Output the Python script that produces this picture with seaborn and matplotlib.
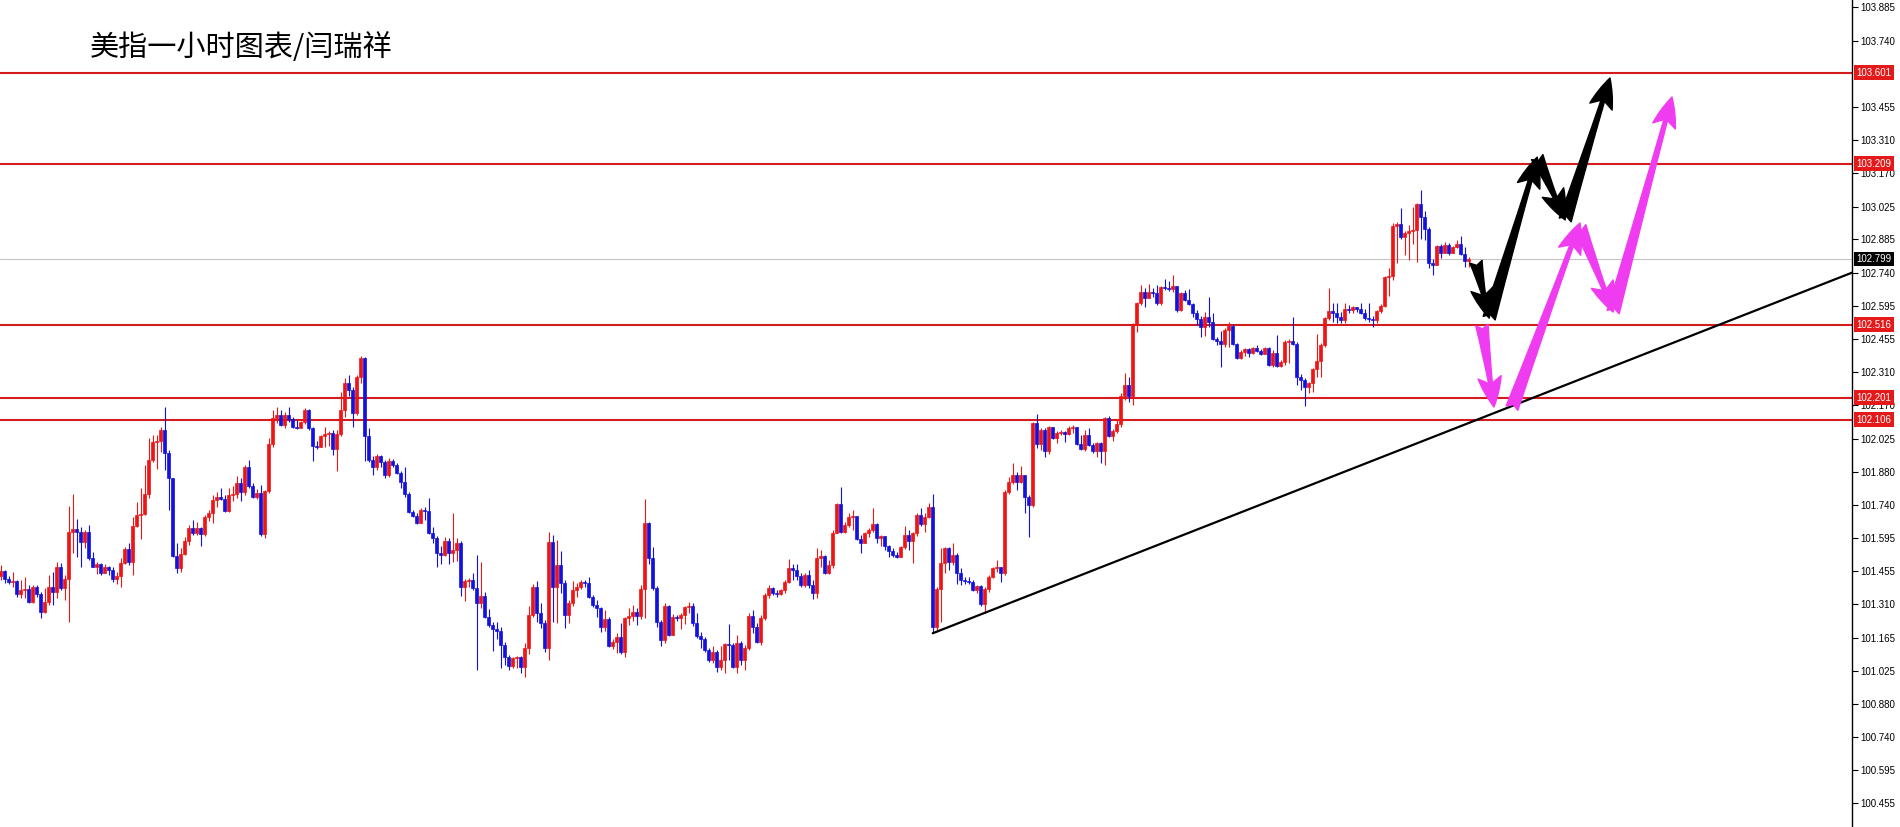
import numpy as np
import pandas as pd
import seaborn as sns
import matplotlib
matplotlib.use("Agg")
import matplotlib.pyplot as plt
from matplotlib.transforms import blended_transform_factory

title = "美指一小时图表/闫瑞祥"

# hourly candles (open = previous close)
first_open = 101.432
closes = [
    101.454, 101.419, 101.406, 101.411, 101.355, 101.372, 101.376, 101.320, 101.385, 101.355,
    101.277, 101.320, 101.385, 101.363, 101.471, 101.381, 101.419, 101.622, 101.635, 101.622,
    101.579, 101.622, 101.509, 101.471, 101.484, 101.445, 101.471, 101.458, 101.419, 101.432,
    101.488, 101.548, 101.493, 101.648, 101.695, 101.699, 101.786, 101.932, 102.010, 102.014,
    102.062, 101.962, 101.854, 101.518, 101.467, 101.527, 101.583, 101.639, 101.618, 101.639,
    101.613, 101.687, 101.704, 101.760, 101.773, 101.764, 101.712, 101.782, 101.786, 101.833,
    101.794, 101.902, 101.820, 101.773, 101.790, 101.613, 101.799, 102.001, 102.113, 102.126,
    102.083, 102.126, 102.109, 102.075, 102.070, 102.096, 102.148, 102.070, 101.992, 101.988,
    102.036, 102.044, 102.049, 101.979, 102.044, 102.148, 102.264, 102.234, 102.135, 102.290,
    102.372, 102.036, 101.932, 101.902, 101.949, 101.923, 101.868, 101.928, 101.911, 101.876,
    101.837, 101.786, 101.708, 101.691, 101.661, 101.717, 101.712, 101.618, 101.596, 101.531,
    101.523, 101.583, 101.531, 101.544, 101.574, 101.385, 101.411, 101.415, 101.381, 101.316,
    101.346, 101.256, 101.221, 101.204, 101.195, 101.135, 101.083, 101.044, 101.079, 101.083,
    101.040, 101.122, 101.264, 101.385, 101.273, 101.230, 101.122, 101.579, 101.385, 101.480,
    101.402, 101.264, 101.316, 101.372, 101.385, 101.406, 101.402, 101.342, 101.307, 101.294,
    101.212, 101.247, 101.130, 101.148, 101.169, 101.105, 101.251, 101.260, 101.277, 101.260,
    101.376, 101.661, 101.509, 101.381, 101.234, 101.156, 101.303, 101.178, 101.256, 101.251,
    101.264, 101.299, 101.303, 101.230, 101.174, 101.161, 101.113, 101.070, 101.105, 101.040,
    101.070, 101.139, 101.135, 101.040, 101.143, 101.070, 101.122, 101.260, 101.212, 101.148,
    101.251, 101.350, 101.381, 101.359, 101.355, 101.372, 101.406, 101.467, 101.458, 101.432,
    101.393, 101.436, 101.393, 101.359, 101.509, 101.518, 101.445, 101.480, 101.618, 101.743,
    101.622, 101.652, 101.687, 101.691, 101.591, 101.574, 101.618, 101.631, 101.656, 101.596,
    101.604, 101.561, 101.540, 101.523, 101.514, 101.557, 101.609, 101.583, 101.618, 101.695,
    101.656, 101.687, 101.730, 101.212, 101.376, 101.488, 101.553, 101.493, 101.523, 101.445,
    101.415, 101.411, 101.406, 101.372, 101.389, 101.312, 101.376, 101.428, 101.467, 101.471,
    101.445, 101.794, 101.837, 101.868, 101.837, 101.868, 101.773, 101.738, 102.092, 102.001,
    102.062, 101.971, 102.075, 102.027, 102.049, 102.053, 102.044, 102.070, 102.075, 102.001,
    101.979, 102.040, 101.997, 101.971, 102.005, 101.971, 102.113, 102.036, 102.057, 102.088,
    102.208, 102.256, 102.208, 102.514, 102.609, 102.656, 102.631, 102.656, 102.652, 102.609,
    102.678, 102.674, 102.669, 102.682, 102.579, 102.652, 102.622, 102.605, 102.566, 102.540,
    102.506, 102.549, 102.527, 102.454, 102.445, 102.432, 102.493, 102.510, 102.432, 102.372,
    102.398, 102.411, 102.393, 102.415, 102.402, 102.389, 102.415, 102.342, 102.393, 102.337,
    102.355, 102.441, 102.445, 102.432, 102.290, 102.277, 102.247, 102.264, 102.325, 102.359,
    102.428, 102.544, 102.574, 102.566, 102.549, 102.536, 102.583, 102.579, 102.592, 102.583,
    102.566, 102.544, 102.540, 102.536, 102.574, 102.596, 102.721, 102.725, 102.941, 102.950,
    102.893, 102.911, 102.919, 102.924, 103.036, 102.980, 102.928, 102.781, 102.773, 102.855,
    102.824, 102.859, 102.824, 102.850, 102.863, 102.820, 102.790, 102.799,
]
highs = [
    101.480, 101.458, 101.432, 101.449, 101.415, 101.415, 101.428, 101.393, 101.393, 101.393,
    101.363, 101.381, 101.436, 101.449, 101.493, 101.488, 101.436, 101.734, 101.786, 101.678,
    101.643, 101.631, 101.652, 101.536, 101.493, 101.488, 101.484, 101.475, 101.471, 101.449,
    101.509, 101.557, 101.574, 101.687, 101.751, 101.811, 101.911, 102.027, 102.040, 102.040,
    102.075, 102.161, 101.975, 101.854, 101.574, 101.553, 101.600, 101.652, 101.674, 101.665,
    101.643, 101.695, 101.717, 101.782, 101.794, 101.811, 101.782, 101.811, 101.820, 101.863,
    101.854, 101.911, 101.932, 101.833, 101.807, 101.824, 101.803, 102.027, 102.148, 102.161,
    102.148, 102.139, 102.161, 102.118, 102.105, 102.101, 102.157, 102.152, 102.075, 102.014,
    102.040, 102.075, 102.057, 102.062, 102.062, 102.225, 102.286, 102.299, 102.247, 102.299,
    102.380, 102.376, 102.070, 101.949, 101.958, 101.954, 101.932, 101.941, 101.936, 101.919,
    101.885, 101.902, 101.794, 101.717, 101.704, 101.725, 101.730, 101.768, 101.643, 101.604,
    101.561, 101.600, 101.596, 101.704, 101.596, 101.583, 101.419, 101.424, 101.445, 101.523,
    101.493, 101.363, 101.290, 101.234, 101.234, 101.212, 101.148, 101.092, 101.083, 101.088,
    101.088, 101.143, 101.303, 101.398, 101.411, 101.316, 101.243, 101.622, 101.609, 101.587,
    101.540, 101.415, 101.329, 101.411, 101.402, 101.415, 101.415, 101.428, 101.350, 101.329,
    101.299, 101.286, 101.256, 101.161, 101.187, 101.230, 101.256, 101.294, 101.307, 101.294,
    101.393, 101.764, 101.665, 101.557, 101.389, 101.243, 101.316, 101.307, 101.269, 101.264,
    101.273, 101.303, 101.320, 101.316, 101.273, 101.191, 101.169, 101.122, 101.130, 101.113,
    101.130, 101.143, 101.226, 101.143, 101.178, 101.152, 101.135, 101.273, 101.286, 101.230,
    101.264, 101.359, 101.393, 101.385, 101.372, 101.376, 101.415, 101.505, 101.484, 101.484,
    101.445, 101.445, 101.458, 101.415, 101.553, 101.544, 101.523, 101.501, 101.631, 101.747,
    101.816, 101.665, 101.704, 101.717, 101.687, 101.609, 101.622, 101.639, 101.725, 101.661,
    101.609, 101.604, 101.566, 101.553, 101.536, 101.561, 101.648, 101.631, 101.622, 101.704,
    101.725, 101.704, 101.747, 101.786, 101.385, 101.553, 101.557, 101.557, 101.574, 101.531,
    101.467, 101.428, 101.428, 101.415, 101.393, 101.393, 101.385, 101.436, 101.471, 101.501,
    101.471, 101.803, 101.859, 101.919, 101.880, 101.906, 101.868, 101.782, 102.096, 102.131,
    102.070, 102.070, 102.079, 102.075, 102.057, 102.062, 102.057, 102.079, 102.083, 102.075,
    102.040, 102.062, 102.070, 102.005, 102.010, 102.010, 102.118, 102.122, 102.066, 102.109,
    102.221, 102.307, 102.290, 102.523, 102.613, 102.687, 102.674, 102.691, 102.674, 102.687,
    102.682, 102.712, 102.704, 102.730, 102.678, 102.656, 102.665, 102.669, 102.609, 102.579,
    102.553, 102.570, 102.635, 102.566, 102.462, 102.488, 102.501, 102.527, 102.518, 102.437,
    102.406, 102.415, 102.415, 102.419, 102.428, 102.411, 102.419, 102.419, 102.406, 102.471,
    102.363, 102.450, 102.454, 102.548, 102.441, 102.303, 102.286, 102.269, 102.329, 102.475,
    102.437, 102.548, 102.674, 102.609, 102.609, 102.570, 102.609, 102.600, 102.596, 102.592,
    102.609, 102.583, 102.609, 102.553, 102.579, 102.605, 102.725, 102.760, 102.954, 102.958,
    103.018, 102.919, 102.945, 103.023, 103.040, 103.096, 103.005, 102.937, 102.799, 102.859,
    102.863, 102.872, 102.867, 102.855, 102.881, 102.898, 102.850, 102.807,
]
lows = [
    101.415, 101.402, 101.398, 101.385, 101.342, 101.338, 101.338, 101.316, 101.316, 101.342,
    101.251, 101.273, 101.307, 101.307, 101.338, 101.372, 101.329, 101.234, 101.531, 101.514,
    101.471, 101.553, 101.501, 101.471, 101.441, 101.436, 101.445, 101.436, 101.406, 101.398,
    101.385, 101.484, 101.480, 101.436, 101.643, 101.591, 101.695, 101.768, 101.923, 101.893,
    101.966, 101.889, 101.717, 101.514, 101.445, 101.449, 101.523, 101.566, 101.609, 101.609,
    101.561, 101.604, 101.669, 101.661, 101.730, 101.760, 101.708, 101.708, 101.755, 101.768,
    101.755, 101.782, 101.811, 101.768, 101.764, 101.604, 101.596, 101.790, 101.988, 102.092,
    102.079, 102.070, 102.096, 102.070, 102.066, 102.075, 102.088, 102.062, 101.928, 101.979,
    101.988, 101.988, 101.992, 101.954, 101.885, 102.036, 102.118, 102.208, 102.075, 102.126,
    102.264, 101.928, 101.923, 101.868, 101.889, 101.902, 101.854, 101.859, 101.902, 101.872,
    101.811, 101.773, 101.704, 101.687, 101.656, 101.661, 101.674, 101.613, 101.574, 101.471,
    101.484, 101.518, 101.484, 101.493, 101.497, 101.346, 101.325, 101.385, 101.372, 101.027,
    101.294, 101.251, 101.212, 101.109, 101.161, 101.036, 101.049, 101.027, 101.036, 101.036,
    101.014, 100.997, 101.096, 101.256, 101.234, 101.208, 101.105, 101.070, 101.234, 101.230,
    101.359, 101.208, 101.230, 101.303, 101.342, 101.376, 101.385, 101.338, 101.299, 101.256,
    101.191, 101.195, 101.126, 101.118, 101.100, 101.096, 101.083, 101.221, 101.238, 101.221,
    101.247, 101.251, 101.484, 101.372, 101.212, 101.130, 101.143, 101.174, 101.178, 101.238,
    101.204, 101.226, 101.273, 101.217, 101.165, 101.122, 101.105, 101.062, 101.057, 101.018,
    101.027, 101.014, 101.070, 101.036, 101.014, 101.049, 101.027, 101.113, 101.187, 101.143,
    101.135, 101.243, 101.338, 101.350, 101.342, 101.350, 101.359, 101.402, 101.415, 101.415,
    101.385, 101.385, 101.381, 101.333, 101.338, 101.471, 101.441, 101.441, 101.467, 101.618,
    101.618, 101.618, 101.643, 101.631, 101.587, 101.531, 101.574, 101.600, 101.622, 101.574,
    101.561, 101.544, 101.514, 101.514, 101.509, 101.514, 101.548, 101.544, 101.488, 101.604,
    101.648, 101.622, 101.682, 101.187, 101.191, 101.234, 101.445, 101.458, 101.480, 101.398,
    101.393, 101.398, 101.398, 101.368, 101.359, 101.303, 101.273, 101.363, 101.424, 101.449,
    101.406, 101.436, 101.786, 101.829, 101.803, 101.833, 101.704, 101.600, 101.730, 101.984,
    101.975, 101.945, 101.958, 102.023, 102.005, 102.040, 102.010, 102.040, 102.049, 101.997,
    101.975, 101.971, 101.992, 101.962, 101.945, 101.919, 101.911, 102.031, 102.014, 102.049,
    102.075, 102.191, 102.182, 102.170, 102.484, 102.600, 102.592, 102.631, 102.635, 102.600,
    102.600, 102.665, 102.661, 102.656, 102.570, 102.574, 102.618, 102.600, 102.549, 102.514,
    102.462, 102.467, 102.506, 102.450, 102.428, 102.333, 102.419, 102.419, 102.428, 102.368,
    102.368, 102.380, 102.376, 102.389, 102.398, 102.385, 102.389, 102.337, 102.333, 102.333,
    102.333, 102.342, 102.350, 102.428, 102.256, 102.234, 102.165, 102.221, 102.225, 102.290,
    102.290, 102.419, 102.536, 102.527, 102.523, 102.523, 102.523, 102.566, 102.566, 102.570,
    102.562, 102.536, 102.527, 102.506, 102.523, 102.566, 102.592, 102.639, 102.708, 102.781,
    102.885, 102.816, 102.794, 102.863, 102.786, 102.885, 102.880, 102.760, 102.730, 102.773,
    102.803, 102.824, 102.816, 102.824, 102.846, 102.816, 102.764, 102.764,
]

# right price scale
tick_values = [103.885, 103.740, 103.455, 103.310, 103.170, 103.025, 102.885, 102.740,
               102.595, 102.455, 102.310, 102.170, 102.025, 101.880, 101.740, 101.595,
               101.455, 101.310, 101.165, 101.025, 100.880, 100.740, 100.595, 100.455]
levels = [103.601, 103.209, 102.516, 102.201, 102.106]
last_price = 102.799

# drawn trend line (bar index, price)
trend_x = [233, 462.8]
trend_y = [101.186, 102.740]

# forecast arrows: (tail, head) in (bar index, price)
black_arrows = [((368.8, 102.787), (372.1, 102.544)),
                ((372.1, 102.544), (384.1, 103.238)),
                ((384.1, 103.238), (391.1, 102.967)),
                ((391.1, 102.967), (402.3, 103.579))]
pink_arrows = [((370.3, 102.514), (373.3, 102.161)),
               ((377.8, 102.156), (394.8, 102.954)),
               ((394.8, 102.937), (403.1, 102.570)),
               ((403.1, 102.570), (417.8, 103.497))]

sns.set_theme(style="white")
plt.rcParams["font.family"] = ["Liberation Sans", "DejaVu Sans"]

df = pd.DataFrame({"close": closes, "high": highs, "low": lows})
df["open"] = [first_open] + closes[:-1]
df["i"] = np.arange(len(df))
df["up"] = df["close"] >= df["open"]
red, blue = "#ee1515", "#1212e0"
cols = np.where(df["up"], red, blue)

fig = plt.figure(figsize=(19, 8.27), dpi=100)
ax = fig.add_axes([0, 0, 1852 / 1900, 1])

# level lines
for lv in levels:
    ax.axhline(lv, color="#d41c1c", linewidth=1.5, zorder=1)
ax.axhline(last_price, color="#c4c4c4", linewidth=0.8, zorder=1)

# candles
ax.vlines(df["i"], df["low"], df["high"], colors=cols, linewidth=0.8, zorder=2)
body_lo = df[["open", "close"]].min(axis=1)
body_h = (df["close"] - df["open"]).abs()
ax.bar(df["i"], body_h, bottom=body_lo, width=0.72, color=cols,
       edgecolor=cols, linewidth=0.5, zorder=3)

# trend line
sns.lineplot(x=trend_x, y=trend_y, color="black", linewidth=1.6, ax=ax, zorder=4)

# arrows
style = "fancy,head_length=1.8,head_width=1.4,tail_width=0.75"
for (tail, head) in black_arrows:
    ax.annotate("", xy=head, xytext=tail, zorder=6,
                arrowprops=dict(arrowstyle=style, fc="black", ec="black",
                                shrinkA=0, shrinkB=0))
for (tail, head) in pink_arrows:
    ax.annotate("", xy=head, xytext=tail, zorder=6,
                arrowprops=dict(arrowstyle=style, fc="#f03cf0", ec="#f03cf0",
                                shrinkA=0, shrinkB=0))

ax.set_xlim(-0.17, 462.8)
ax.set_ylim(100.351, 103.915)

# axes look
for s in ["top", "left", "bottom"]:
    ax.spines[s].set_visible(False)
ax.spines["right"].set_color("black")
ax.spines["right"].set_linewidth(1.0)
ax.set_xticks([])
ax.yaxis.tick_right()
ax.set_yticks(tick_values)
ax.set_yticklabels([f"{v:.3f}" for v in tick_values])
ax.tick_params(axis="y", direction="out", length=4, width=0.8, color="black",
               labelsize=7, pad=2, labelcolor="black", right=True)
ax.grid(False)

# price boxes on the scale
trans = blended_transform_factory(ax.transAxes, ax.transData)
for lv in levels:
    ax.text(1.0025, lv, f"{lv:.3f}", transform=trans, ha="left", va="center",
            fontsize=7, color="white", clip_on=False, zorder=10,
            bbox=dict(boxstyle="square,pad=0.25", fc="#e41a1a", ec="none"))
ax.text(1.0025, last_price, f"{last_price:.3f}", transform=trans, ha="left", va="center",
        fontsize=7, color="white", clip_on=False, zorder=10,
        bbox=dict(boxstyle="square,pad=0.25", fc="black", ec="none"))

fig.text(90 / 1900, 1 - 48 / 827, title, fontsize=21, va="center", ha="left",
         family=["Noto Sans CJK SC", "DejaVu Sans"], color="black")

fig.savefig("out.png", dpi=100)
